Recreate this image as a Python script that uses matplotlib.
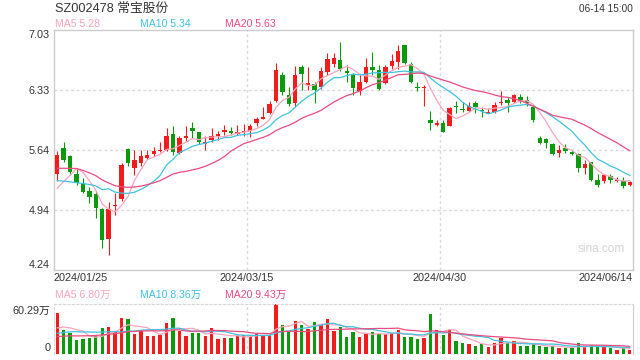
import numpy as np
import pandas as pd
import matplotlib
matplotlib.use("Agg")
import matplotlib.pyplot as plt

plt.rcParams['font.family'] = ['Liberation Sans', 'Noto Sans CJK SC', 'DejaVu Sans']

# daily K-line, 2024/01/25 .. 2024/06/14 (90 sessions)
open_ = [5.36, 5.66, 5.57, 5.36, 5.25, 5.16, 5.12, 4.95, 4.60, 4.98,
         5.06, 5.65, 5.43, 5.48, 5.54, 5.59, 5.62, 5.63, 5.82, 5.60,
         5.77, 5.89, 5.84, 5.71, 5.75, 5.80, 5.85, 5.86, 5.82, 5.84,
         5.86, 5.95, 6.00, 6.07, 6.21, 6.51, 6.27, 6.18, 6.60, 6.39,
         6.40, 6.37, 6.54, 6.63, 6.68, 6.55, 6.51, 6.32, 6.43, 6.60,
         6.56, 6.41, 6.61, 6.66, 6.86, 6.64, 6.37, 6.36, 5.98, 5.93,
         5.95, 5.91, 6.14, 6.11, 6.09, 6.18, 6.10, 6.07, 6.08, 6.18,
         6.22, 6.19, 6.25, 6.22, 6.13, 5.78, 5.76, 5.71, 5.60, 5.66,
         5.61, 5.59, 5.43, 5.49, 5.29, 5.27, 5.33, 5.28, 5.28, 5.23]
high = [5.62, 5.73, 5.58, 5.42, 5.31, 5.21, 5.16, 4.96, 5.03, 5.14,
        5.48, 5.66, 5.64, 5.64, 5.64, 5.67, 5.73, 5.89, 5.91, 5.80,
        5.91, 5.96, 5.84, 5.80, 5.89, 5.86, 5.93, 5.90, 5.93, 5.94,
        5.94, 6.02, 6.14, 6.20, 6.65, 6.54, 6.37, 6.61, 6.62, 6.60,
        6.42, 6.60, 6.76, 6.76, 6.89, 6.62, 6.53, 6.51, 6.71, 6.77,
        6.62, 6.62, 6.75, 6.85, 6.86, 6.66, 6.42, 6.39, 6.09, 5.98,
        5.98, 6.13, 6.21, 6.19, 6.19, 6.20, 6.14, 6.12, 6.19, 6.32,
        6.25, 6.29, 6.29, 6.26, 6.15, 5.80, 5.78, 5.72, 5.69, 5.70,
        5.63, 5.60, 5.52, 5.50, 5.36, 5.36, 5.36, 5.32, 5.32, 5.27]
low = [5.27, 5.50, 5.36, 5.23, 5.13, 5.02, 4.84, 4.49, 4.42, 4.88,
       5.04, 5.45, 5.35, 5.45, 5.53, 5.56, 5.61, 5.62, 5.58, 5.59,
       5.74, 5.77, 5.71, 5.64, 5.73, 5.75, 5.81, 5.81, 5.81, 5.80,
       5.79, 5.91, 6.00, 6.05, 6.19, 6.27, 6.15, 6.14, 6.33, 6.33,
       6.18, 6.34, 6.51, 6.60, 6.55, 6.43, 6.27, 6.28, 6.41, 6.51,
       6.33, 6.40, 6.58, 6.58, 6.63, 6.41, 6.32, 6.15, 5.87, 5.91,
       5.84, 5.91, 6.06, 6.08, 6.08, 6.07, 6.02, 6.06, 6.07, 6.16,
       6.08, 6.18, 6.18, 6.15, 5.96, 5.70, 5.66, 5.58, 5.55, 5.60,
       5.58, 5.38, 5.36, 5.27, 5.20, 5.25, 5.25, 5.26, 5.19, 5.22]
close = [5.58, 5.52, 5.38, 5.25, 5.15, 5.09, 4.96, 4.59, 4.95, 4.99,
         5.46, 5.48, 5.52, 5.57, 5.58, 5.62, 5.64, 5.80, 5.61, 5.77,
         5.80, 5.86, 5.73, 5.73, 5.80, 5.82, 5.87, 5.83, 5.84, 5.85,
         5.91, 5.99, 6.02, 6.17, 6.56, 6.31, 6.17, 6.51, 6.52, 6.41,
         6.33, 6.55, 6.69, 6.70, 6.58, 6.53, 6.35, 6.42, 6.60, 6.57,
         6.34, 6.60, 6.67, 6.79, 6.65, 6.43, 6.36, 6.37, 5.95, 5.95,
         5.85, 6.12, 6.13, 6.10, 6.15, 6.13, 6.09, 6.08, 6.16, 6.19,
         6.18, 6.27, 6.22, 6.18, 5.98, 5.72, 5.72, 5.59, 5.64, 5.62,
         5.59, 5.42, 5.47, 5.29, 5.23, 5.34, 5.29, 5.29, 5.22, 5.26]
# volume, 万手
volume = [50.1, 29.2, 25.2, 17.1, 17.9, 20.0, 21.9, 31.2, 32.8, 28.0,
          43.3, 42.1, 24.0, 28.0, 21.9, 21.9, 23.1, 37.2, 43.3, 28.0,
          21.9, 25.2, 25.2, 21.9, 31.2, 17.9, 20.0, 20.0, 23.1, 22.7,
          20.7, 24.8, 22.7, 22.7, 60.29, 34.8, 27.2, 39.7, 34.8, 30.8,
          38.8, 36.0, 42.1, 28.0, 32.8, 20.7, 26.7, 20.7, 24.8, 26.7,
          24.8, 24.0, 24.8, 28.8, 20.7, 20.7, 17.9, 19.5, 48.1, 28.8,
          23.1, 28.8, 15.9, 13.1, 11.9, 9.9, 12.8, 8.7, 13.1, 19.5,
          14.0, 15.9, 9.9, 9.9, 11.9, 9.9, 8.6, 9.9, 7.5, 7.5,
          7.5, 13.1, 8.7, 11.6, 8.7, 8.7, 7.5, 5.0, 7.5, 5.3]

# sessions before the window, only to seed the moving averages
# (guessed from where the MA lines start)
pre_close = [5.52, 5.40, 5.28, 5.60, 5.65, 5.62, 5.58, 5.66, 5.62, 5.72,
             5.60, 5.45, 5.35, 5.25, 5.20, 5.12, 5.03, 4.85, 5.37]
pre_volume = [18.0, 17.0, 20.0, 16.0, 18.0, 15.0, 17.0, 16.0, 19.0, 18.0,
              17.0, 18.0, 16.0, 20.0, 21.0, 24.0, 30.0, 28.0, 26.0]

date_labels = ["2024/01/25", "2024/03/15", "2024/04/30", "2024/06/14"]
price_ticks = [4.24, 4.94, 5.64, 6.33, 7.03]
vol_top = 60.29
ma_days = [5, 10, 20]

RED = "#f21c1c"
GREEN = "#0b9a0b"
MA_COLORS = ["#fba5bc", "#3ec3e0", "#ea4b80"]
TXT = "#333333"
GRID = "#d9d9d9"

open_, high, low, close = map(np.array, (open_, high, low, close))
volume = np.array(volume)
x = np.arange(len(close))
colors = np.where(close >= open_, RED, GREEN)

fig = plt.figure(figsize=(6.4, 3.6), dpi=100)
ax = fig.add_axes([54 / 640, 90 / 360, 579 / 640, 240 / 360])
vax = fig.add_axes([54 / 640, 5.7 / 360, 579 / 640, 50.3 / 360])

# --- price panel
ax.vlines(x, low, high, colors=colors, linewidth=0.8, zorder=2)
body_bottom = np.minimum(open_, close)
body_height = np.maximum(np.abs(close - open_), 0.012)
ax.bar(x, body_height, 0.68, bottom=body_bottom, color=colors, linewidth=0, zorder=3)

full_close = pd.Series(np.r_[pre_close, close])
ma_last = []
for n, c in zip(ma_days, MA_COLORS):
    ma = full_close.rolling(n).mean().to_numpy()[len(pre_close):]
    ma_last.append(ma[-1])
    ax.plot(x, ma, color=c, linewidth=0.9, zorder=4)

ax.set_xlim(-0.5, len(close) - 0.5)
ax.set_ylim(price_ticks[0], price_ticks[-1])
ax.set_yticks(price_ticks)
ax.set_yticklabels([f"{t:.2f}" for t in price_ticks])
ax.set_xticks([])
ax.tick_params(axis='y', length=0, pad=3, labelsize=7.8, labelcolor=TXT)
ylabels = ax.get_yticklabels()
ylabels[0].set_verticalalignment("bottom")
ylabels[-1].set_verticalalignment("top")
for y in price_ticks[1:-1]:
    ax.axhline(y, color=GRID, linewidth=1, linestyle=(0, (2, 2)), zorder=1)
for s in ax.spines.values():
    s.set_color("#cccccc")
    s.set_linewidth(1)

for ax_ in (ax, vax):
    for f in (1 / 3, 2 / 3):
        ax_.plot([f, f], [0, 1], transform=ax_.transAxes, color=GRID,
                 linewidth=1, linestyle=(0, (2, 2)), zorder=1)

# date labels under the price panel
for i, lab in enumerate(date_labels):
    ha = "left" if i == 0 else ("right" if i == len(date_labels) - 1 else "center")
    ax.text(i / 3, -0.034, lab, transform=ax.transAxes, ha=ha, va="center",
            fontsize=7.8, color=TXT)

legend_x = [0.002, 0.1485, 0.295]
for lx, n, c, v in zip(legend_x, ma_days, MA_COLORS, ma_last):
    ax.text(lx, 1.025, f"MA{n} {v:.2f}", transform=ax.transAxes, ha="left",
            va="center", fontsize=7.6, color=c)

ax.text(0.946, 0.0875, "sina.com", transform=ax.transAxes, ha="center",
        va="center", fontsize=8.5, color="#d4d4d4")

fig.text(55 / 640, 1 - 9 / 360, "SZ002478 常宝股份", ha="left", va="center",
         fontsize=9.2, color=TXT)
fig.text(633 / 640, 1 - 9 / 360, "06-14 15:00", ha="right", va="center",
         fontsize=7.2, color=TXT)

# --- volume panel
vax.bar(x, volume, 0.52, color=colors, linewidth=0, zorder=2)
full_vol = pd.Series(np.r_[pre_volume, volume])
vma_last = []
for n, c in zip(ma_days, MA_COLORS):
    vma = full_vol.rolling(n).mean().to_numpy()[len(pre_volume):]
    vma_last.append(vma[-1])
    vax.plot(x, vma, color=c, linewidth=0.9, zorder=3)

vax.set_xlim(-0.5, len(close) - 0.5)
vax.set_ylim(0, vol_top)
vax.set_xticks([])
vax.set_yticks([])
vax.spines["bottom"].set_visible(False)
for side in ("top", "left"):
    vax.spines[side].set_color(GRID)
    vax.spines[side].set_linestyle((0, (2, 2)))
vax.spines["right"].set_color("#cccccc")

vax.text(-0.006, 0.96, f"{vol_top:.2f}万", transform=vax.transAxes, ha="right",
         va="top", fontsize=7.8, color=TXT)
vax.text(-0.006, 0.02, "0", transform=vax.transAxes, ha="right",
         va="bottom", fontsize=7.8, color=TXT)
for lx, n, c, v in zip(legend_x, ma_days, MA_COLORS, vma_last):
    vax.text(lx, 1.18, f"MA{n} {v:.2f}万", transform=vax.transAxes, ha="left",
             va="center", fontsize=7.6, color=c)

fig.savefig("out.png", dpi=100)
